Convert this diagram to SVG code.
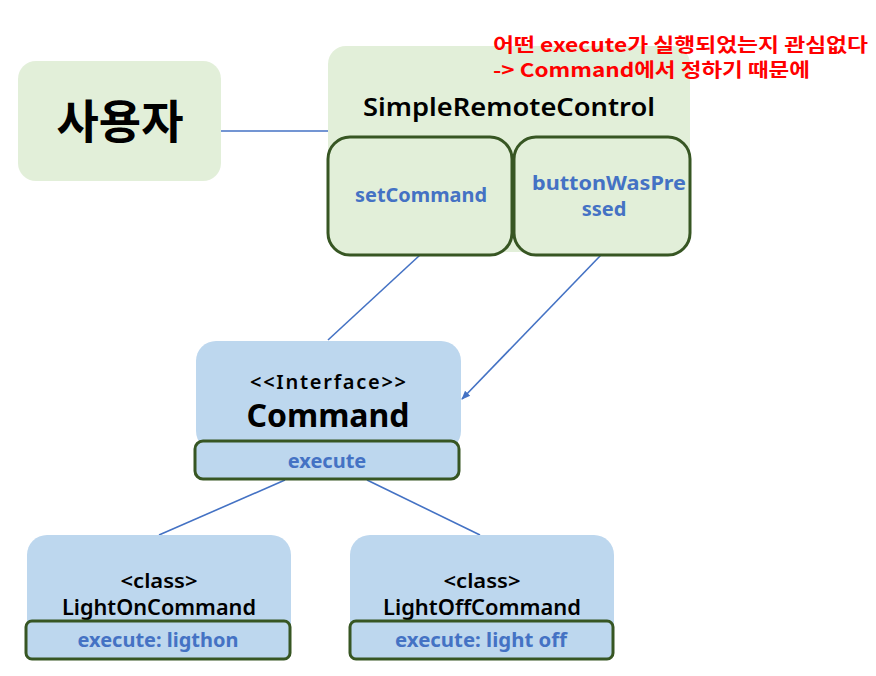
<svg xmlns="http://www.w3.org/2000/svg" width="876" height="676" viewBox="0 0 876 676">
<defs>
<style>
text{font-family:"Noto Sans","Noto Sans CJK KR",sans-serif;text-anchor:middle}
.g{fill:#e2efd9}
.b{fill:#bdd7ee}
.sub{stroke:#375623;stroke-width:3}
.m{fill:#4472c4;font-weight:bold;font-size:20px}
.k{fill:#000}
.sb{font-weight:600}
.note{font-family:"Noto Sans CJK KR","Noto Sans",sans-serif;font-size:19px;font-weight:bold;fill:#ff0000;text-anchor:start}
.con{stroke:#4472c4;stroke-width:1.6;fill:none}
</style>
<marker id="arr" viewBox="0 0 10 10" refX="9" refY="5" markerWidth="9" markerHeight="9" orient="auto" markerUnits="userSpaceOnUse">
<path d="M0,1 L10,5 L0,9 z" fill="#4472c4"/>
</marker>
</defs>
<rect width="876" height="676" fill="#fff"/>
<g id="connectors">
<line class="con" x1="221" y1="131" x2="328" y2="131"/>
<line class="con" x1="420" y1="255" x2="328" y2="340"/>
<line class="con" x1="601" y1="255" x2="462" y2="399" marker-end="url(#arr)"/>
<line class="con" x1="285" y1="480" x2="159" y2="535"/>
<line class="con" x1="367" y1="480" x2="480" y2="535"/>
</g>
<g id="user">
<rect class="g" x="18" y="61" width="203" height="120" rx="18"/>
<text x="120" y="138" font-size="46" font-weight="bold" class="k">사용자</text>
</g>
<g id="remote">
<rect class="g" x="328" y="46" width="362" height="206" rx="18"/>
<text x="509" y="116" font-size="26" class="k sb" textLength="292" lengthAdjust="spacingAndGlyphs">SimpleRemoteControl</text>
</g>
<g id="setCommand">
<rect class="g sub" x="328" y="137" width="184" height="118" rx="22"/>
<text x="421" y="202" class="m" textLength="132" lengthAdjust="spacingAndGlyphs">setCommand</text>
</g>
<g id="buttonWasPressed">
<rect class="g sub" x="514" y="137" width="176" height="118" rx="22"/>
<text x="609" y="190" class="m" textLength="154" lengthAdjust="spacingAndGlyphs">buttonWasPre</text>
<text x="604" y="216" class="m">ssed</text>
</g>
<g id="note">
<text x="493" y="52" class="note" textLength="375" lengthAdjust="spacingAndGlyphs">어떤 execute가 실행되었는지 관심없다</text>
<text x="493" y="77" class="note" textLength="317" lengthAdjust="spacingAndGlyphs">-&gt; Command에서 정하기 때문에</text>
</g>
<g id="command">
<rect class="b" x="196" y="341" width="265" height="110" rx="20"/>
<text x="328" y="389" font-size="20" class="k sb" textLength="156" lengthAdjust="spacing">&lt;&lt;Interface&gt;&gt;</text>
<text x="328" y="427" font-size="32" font-weight="bold" class="k">Command</text>
<rect class="b sub" x="195" y="441" width="264" height="38" rx="8"/>
<text x="327" y="468" class="m">execute</text>
</g>
<g id="lightOn">
<rect class="b" x="27" y="535" width="264" height="110" rx="20"/>
<text x="159" y="588" font-size="20" class="k sb" textLength="77" lengthAdjust="spacingAndGlyphs">&lt;class&gt;</text>
<text x="159" y="615" font-size="21" class="k sb" textLength="194" lengthAdjust="spacingAndGlyphs">LightOnCommand</text>
<rect class="b sub" x="26" y="621" width="264" height="38" rx="6"/>
<text x="158" y="647" class="m" textLength="161" lengthAdjust="spacingAndGlyphs">execute: ligthon</text>
</g>
<g id="lightOff">
<rect class="b" x="350" y="535" width="264" height="110" rx="20"/>
<text x="482" y="588" font-size="20" class="k sb" textLength="77" lengthAdjust="spacingAndGlyphs">&lt;class&gt;</text>
<text x="482" y="615" font-size="21" class="k sb" textLength="198" lengthAdjust="spacingAndGlyphs">LightOffCommand</text>
<rect class="b sub" x="350" y="621" width="263" height="38" rx="6"/>
<text x="481" y="647" class="m" textLength="172" lengthAdjust="spacingAndGlyphs">execute: light off</text>
</g>
</svg>
